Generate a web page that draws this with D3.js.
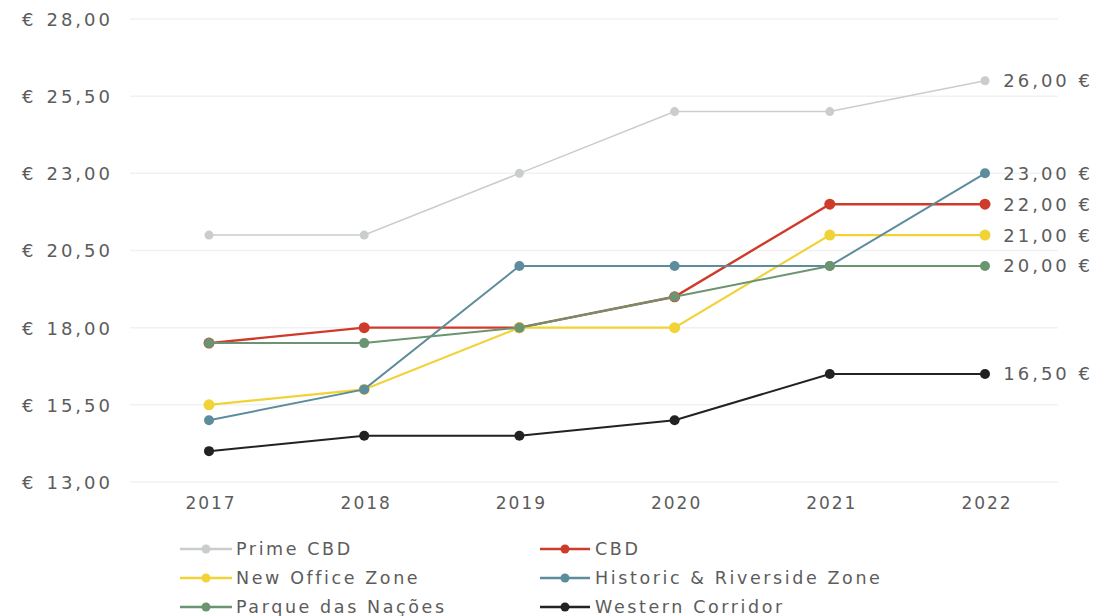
<!DOCTYPE html>
<html>
<head>
<meta charset="utf-8">
<script src="https://cdn.jsdelivr.net/npm/d3@7"></script>
<style>
  html, body { margin: 0; padding: 0; background: #ffffff; }
  svg text { font-family: "DejaVu Sans", "Noto Sans", sans-serif; fill: #5c5c5c; }
</style>
</head>
<body>
<svg id="chart" width="1094" height="616"></svg>
<script>
// Office rents (€ / m² / month) by zone, 2017–2022
const years = ["2017", "2018", "2019", "2020", "2021", "2022"];
const yTicks = [13, 15.5, 18, 20.5, 23, 25.5, 28];

const seriesNames = ["Prime CBD", "CBD", "New Office Zone", "Historic & Riverside Zone", "Parque das Nações", "Western Corridor"];
const seriesColors = ["#c9cdcc", "#cf3b2b", "#f1d237", "#5d8d9d", "#6b9470", "#222222"];

const primeCbd   = [21.0, 21.0, 23.0, 25.0, 25.0, 26.0];
const cbd        = [17.5, 18.0, 18.0, 19.0, 22.0, 22.0];
const newOffice  = [15.5, 16.0, 18.0, 18.0, 21.0, 21.0];
const historic   = [15.0, 16.0, 20.0, 20.0, 20.0, 23.0];
const parque     = [17.5, 17.5, 18.0, 19.0, 20.0, 20.0];
const western    = [14.0, 14.5, 14.5, 15.0, 16.5, 16.5];

const seriesValues = [primeCbd, cbd, newOffice, historic, parque, western];
const lineWidths = [1.5, 2.4, 2.2, 2, 2, 2];
const markerR = [4.5, 5.5, 5.5, 5, 5, 5];

const fmt = v => d3.format(".2f")(v).replace(".", ",");

const svg = d3.select("#chart");

const x = d3.scalePoint().domain(years).range([209, 985]);
const y = d3.scaleLinear().domain([13, 28]).range([482, 19]);

// faint horizontal gridlines
svg.append("g").selectAll("line")
  .data(yTicks)
  .join("line")
  .attr("x1", 130).attr("x2", 1058)
  .attr("y1", d => y(d)).attr("y2", d => y(d))
  .attr("stroke", "#f1f1f1").attr("stroke-width", 1.5);

// y axis labels: "€" then the value, right-aligned
const yAxis = d3.axisLeft(y).tickValues(yTicks).tickSize(0).tickPadding(0)
  .tickFormat(fmt);
const yg = svg.append("g").attr("transform", "translate(113,0)").call(yAxis);
yg.select(".domain").remove();
yg.selectAll("text")
  .attr("font-size", 18).attr("fill", "#5c5c5c").attr("letter-spacing", 3)
  .style("font-family", "'DejaVu Sans', sans-serif").attr("dy", "0.36em")
  .each(function (d) {
    const t = d3.select(this).text(null);
    t.append("tspan").text("€");
    t.append("tspan").attr("dx", 10).text(fmt(d));
  });

// x axis labels
const xAxis = d3.axisBottom(x).tickSize(0).tickPadding(0);
const xg = svg.append("g").attr("transform", "translate(1.5,497)").call(xAxis);
xg.select(".domain").remove();
xg.selectAll("text").attr("font-size", 17).attr("fill", "#5c5c5c").attr("letter-spacing", 2)
  .style("font-family", "'DejaVu Sans', sans-serif").attr("dy", "0.71em");

// lines and markers
const line = d3.line().x((d, i) => x(years[i])).y(d => y(d));

seriesValues.forEach((vals, s) => {
  const g = svg.append("g");
  g.append("path")
    .datum(vals)
    .attr("d", line)
    .attr("fill", "none")
    .attr("stroke", seriesColors[s])
    .attr("stroke-width", lineWidths[s]);
  g.selectAll("circle")
    .data(vals)
    .join("circle")
    .attr("cx", (d, i) => x(years[i]))
    .attr("cy", d => y(d))
    .attr("r", markerR[s])
    .attr("fill", seriesColors[s]);
});

// end-of-line value labels
svg.append("g").selectAll("text")
  .data(seriesValues.map(v => v[v.length - 1]).filter((v, i, a) => a.indexOf(v) === i))
  .join("text")
  .attr("x", 1093)
  .attr("y", d => y(d))
  .attr("dy", "0.36em")
  .attr("text-anchor", "end")
  .attr("font-size", 18)
  .attr("letter-spacing", 3)
  .text(d => fmt(d) + " €");

// legend, two columns
const legendCols = [
  { lineX: 180, lineLen: 52, textX: 236 },
  { lineX: 540, lineLen: 50, textX: 595 }
];
const legendY = [549, 578, 607];
const lg = svg.append("g");
seriesNames.forEach((name, i) => {
  const c = legendCols[i % 2];
  const ly = legendY[Math.floor(i / 2)];
  lg.append("line")
    .attr("x1", c.lineX).attr("x2", c.lineX + c.lineLen)
    .attr("y1", ly).attr("y2", ly)
    .attr("stroke", seriesColors[i]).attr("stroke-width", 2.5);
  lg.append("circle")
    .attr("cx", c.lineX + c.lineLen / 2).attr("cy", ly).attr("r", 4.5)
    .attr("fill", seriesColors[i]);
  lg.append("text")
    .attr("x", c.textX).attr("y", ly)
    .attr("dy", "0.36em")
    .attr("font-size", 17.5)
    .attr("letter-spacing", 2.6)
    .text(name);
});
</script>
</body>
</html>
